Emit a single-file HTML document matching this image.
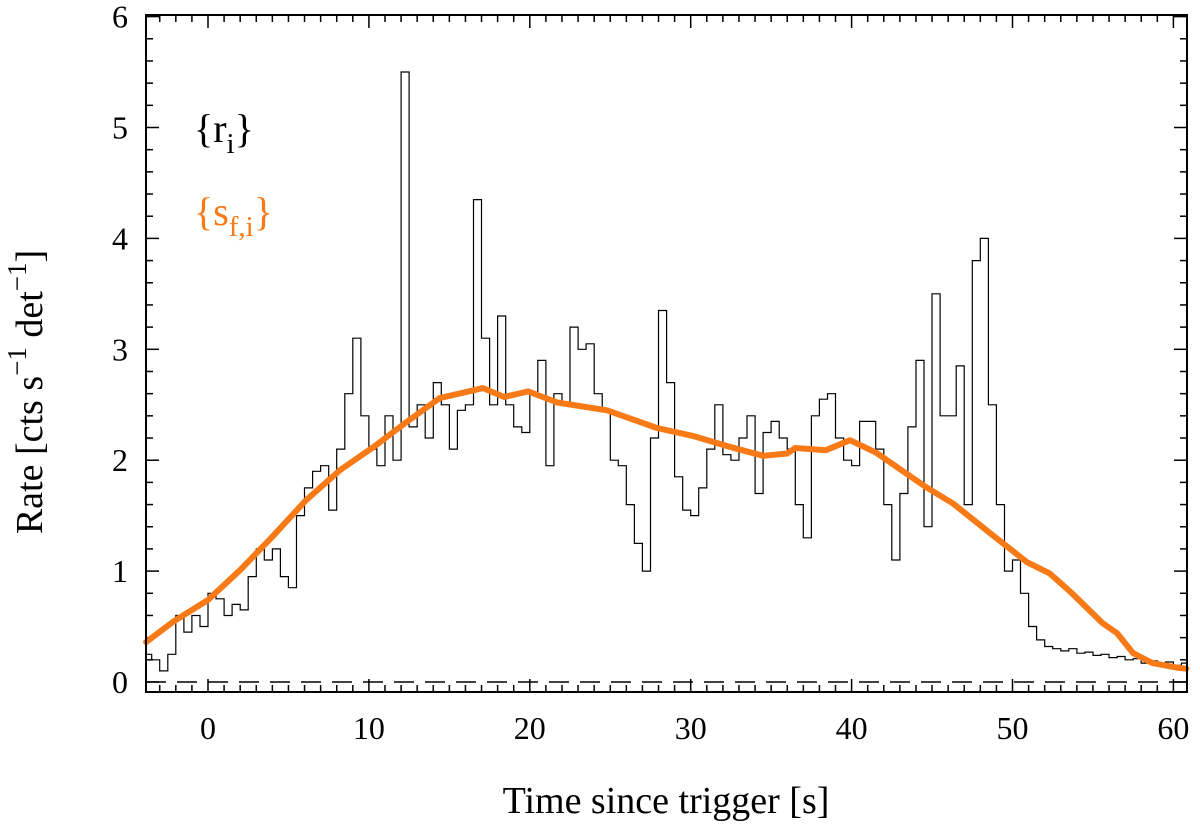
<!DOCTYPE html>
<html><head><meta charset="utf-8"><style>
html,body{margin:0;padding:0;background:#fff;}
svg{display:block;}
text{font-family:"Liberation Serif",serif;fill:#000;}
</style></head><body>
<svg id="chart" width="1200" height="825" viewBox="0 0 1200 825" xmlns="http://www.w3.org/2000/svg">
<g id="ticks"></g>
<g id="ticklabels"></g>
<line id="zero" stroke="#000" stroke-width="1.5" stroke-dasharray="20,11"/>
<path id="rate" fill="none" stroke="#000" stroke-width="1.2"/>
<path id="smooth" fill="none" stroke="#f77a17" stroke-width="6" stroke-linejoin="round" stroke-linecap="round"/>
<rect x="146" y="15" width="1041" height="677" fill="none" stroke="#000" stroke-width="2"/>
<text x="194" y="142" font-size="40">{r<tspan font-size="29" dy="11">i</tspan><tspan dy="-11">}</tspan></text>
<text x="194" y="225" font-size="40" style="fill:#f77a17">{s<tspan font-size="29" dy="11">f,i</tspan><tspan dy="-11">}</tspan></text>
<text x="666" y="813" font-size="38" text-anchor="middle">Time since trigger [s]</text>
<text transform="translate(42,392) rotate(-90)" font-size="38" text-anchor="middle">Rate [cts s<tspan font-size="27" dy="-16">−1</tspan><tspan dy="16"> det</tspan><tspan font-size="27" dy="-16">−1</tspan><tspan dy="16">]</tspan></text>
</svg>
<script>
const binStart = -4;
const binWidth = 0.5;
const rateValues = [0.25,0.2,0.1,0.25,0.6,0.45,0.6,0.5,0.8,0.75,0.6,0.7,0.65,0.95,1.2,1.1,1.2,0.95,0.85,1.5,1.75,1.9,1.95,1.55,2.1,2.6,3.1,2.4,2.1,1.95,2.4,2.0,5.5,2.3,2.5,2.2,2.7,2.5,2.1,2.45,2.5,4.35,3.1,2.5,3.3,2.5,2.3,2.25,2.6,2.9,1.95,2.6,2.5,3.2,3.0,3.05,2.6,2.45,2.0,1.95,1.6,1.25,1.0,2.2,3.35,2.7,1.85,1.55,1.5,1.75,2.1,2.5,2.05,2.0,2.2,2.4,1.7,2.25,2.35,2.2,2.1,1.6,1.3,2.4,2.55,2.6,2.2,2.0,1.95,2.35,2.35,2.1,1.6,1.1,1.7,2.3,2.9,1.4,3.5,2.4,2.4,2.85,1.6,3.8,4.0,2.5,1.6,1.0,1.1,0.8,0.5,0.38,0.32,0.3,0.28,0.3,0.26,0.27,0.24,0.25,0.22,0.23,0.2,0.21,0.17,0.19,0.16,0.18,0.15,0.17];
const smoothT = [-3.85,-2.2,0,2,4,6.1,8.2,10.3,12.3,14.4,16.5,17.1,18.4,19.9,21.7,24.8,27.9,30.1,32.2,34.5,36,36.5,38.4,39.9,41.5,44.6,46.3,48.8,50.9,52.3,53.7,55.6,56.5,57.5,58.7,60.2,60.8];
const smoothV = [0.36,0.54,0.74,1.01,1.31,1.64,1.91,2.12,2.34,2.56,2.63,2.65,2.57,2.62,2.52,2.45,2.29,2.22,2.13,2.04,2.06,2.11,2.09,2.18,2.07,1.76,1.61,1.32,1.08,0.98,0.80,0.53,0.44,0.26,0.17,0.13,0.12];
const xTickLabels = [0,10,20,30,40,50,60];
const yTickLabels = [0,1,2,3,4,5,6];

const L=146,R=1187,T=15,B=692;
const X=t=>208+(t-0)*16.09;
const Y=v=>682-v*110.9;
const clipX=x=>Math.max(L,Math.min(R,x));

let d='';
rateValues.forEach((v,i)=>{
  const x0=clipX(X(binStart+i*binWidth)), x1=clipX(X(binStart+(i+1)*binWidth));
  if(x1<=x0) return;
  const y=Y(v).toFixed(1);
  d+=(d?'L':'M')+x0.toFixed(1)+','+y+'L'+x1.toFixed(1)+','+y;
});
document.getElementById('rate').setAttribute('d',d);

document.getElementById('smooth').setAttribute('d',smoothT.map((t,i)=>(i?'L':'M')+clipX(X(t)).toFixed(1)+','+Y(smoothV[i]).toFixed(1)).join(''));

const z=document.getElementById('zero');
z.setAttribute('x1',L);z.setAttribute('x2',R);z.setAttribute('y1',Y(0));z.setAttribute('y2',Y(0));

const NS='http://www.w3.org/2000/svg';
const tg=document.getElementById('ticks'), lg=document.getElementById('ticklabels');
function line(x1,y1,x2,y2){const l=document.createElementNS(NS,'line');
l.setAttribute('x1',x1);l.setAttribute('y1',y1);l.setAttribute('x2',x2);l.setAttribute('y2',y2);
l.setAttribute('stroke','#000');l.setAttribute('stroke-width','1.5');


tg.appendChild(l);}
for(let t=-3;t<=60;t++){const x=X(t);const len=(t%10===0)?13:7;line(x,B,x,B-len);line(x,T,x,T+len);}
for(let k=0;k<=30;k++){const v=k*0.2;const y=Y(v);if(y<T)continue;const len=(k%5===0)?13:7;line(L,y,L+len,y);line(R,y,R-len,y);}
xTickLabels.forEach(t=>{const e=document.createElementNS(NS,'text');
e.setAttribute('x',X(t));e.setAttribute('y',739);e.setAttribute('font-size','32');e.setAttribute('text-anchor','middle');


e.textContent=t;lg.appendChild(e);});
yTickLabels.forEach(v=>{const e=document.createElementNS(NS,'text');
e.setAttribute('x',128);e.setAttribute('y',Y(v)+11);e.setAttribute('font-size','32');e.setAttribute('text-anchor','end');


e.textContent=v;lg.appendChild(e);});
</script>
</body></html>
